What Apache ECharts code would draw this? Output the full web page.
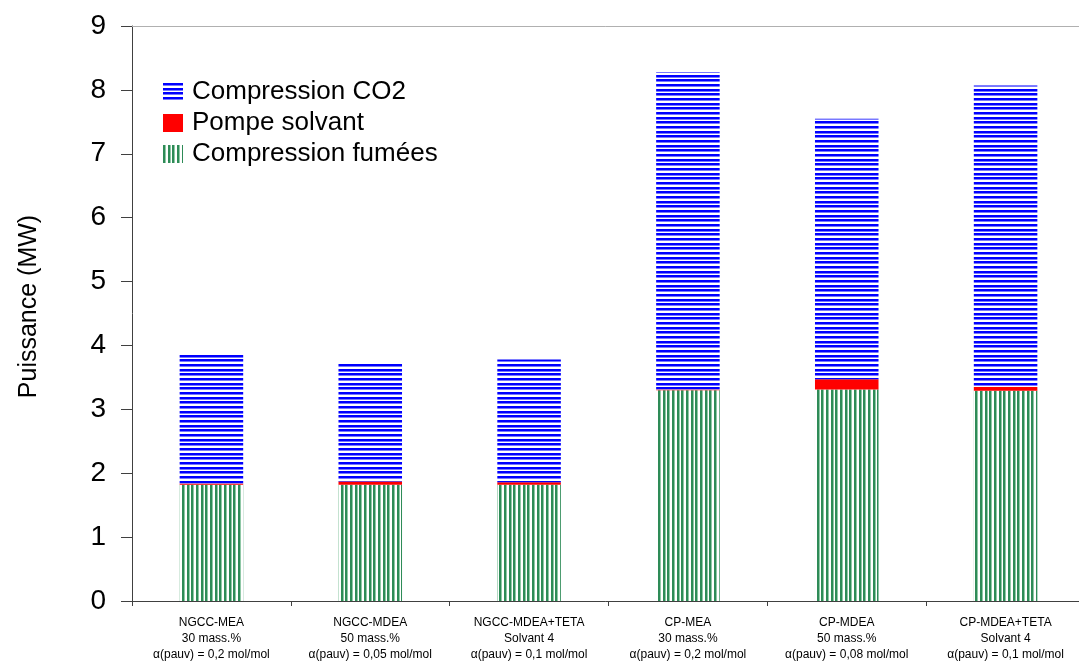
<!DOCTYPE html>
<html>
<head>
<meta charset="utf-8">
<script src="https://cdn.jsdelivr.net/npm/echarts@6/dist/echarts.min.js"></script>
<style>
  html, body { margin: 0; padding: 0; background: #fff; }
  #chart { width: 1079px; height: 668px; }
</style>
</head>
<body>
<div id="chart"></div>
<script>
// categories (3 lines of label each)
var procedes = ['NGCC-MEA', 'NGCC-MDEA', 'NGCC-MDEA+TETA', 'CP-MEA', 'CP-MDEA', 'CP-MDEA+TETA'];
var solvants = ['30 mass.%', '50 mass.%', 'Solvant 4', '30 mass.%', '50 mass.%', 'Solvant 4'];
var charges = ['α(pauv) = 0,2 mol/mol', 'α(pauv) = 0,05 mol/mol', 'α(pauv) = 0,1 mol/mol',
               'α(pauv) = 0,2 mol/mol', 'α(pauv) = 0,08 mol/mol', 'α(pauv) = 0,1 mol/mol'];

// valeurs (MW)
var compFumees = [1.82, 1.82, 1.82, 3.30, 3.31, 3.29];
var pompeSolvant = [0.02, 0.05, 0.04, 0.01, 0.16, 0.06];
var compCO2 = [2.04, 1.86, 1.92, 4.97, 4.08, 4.72];

var yTicks = [0, 1, 2, 3, 4, 5, 6, 7, 8, 9];

// motifs hachurés
function stripes(color, light, vertical) {
    var c = document.createElement('canvas');
    c.width = 14; c.height = 14;
    var ctx = c.getContext('2d');
    ctx.fillStyle = '#fff';
    ctx.fillRect(0, 0, 14, 14);
    for (var i = 0; i < 3; i++) {
        var p = Math.round(i * 14 / 3);
        ctx.fillStyle = light;
        if (vertical) ctx.fillRect(p + 2, 0, 1, 14); else ctx.fillRect(0, p + 2, 14, 1);
        ctx.fillStyle = color;
        if (vertical) ctx.fillRect(p, 0, 2, 14); else ctx.fillRect(0, p, 14, 2);
    }
    return { image: c, repeat: 'repeat' };
}

var blueHatch = stripes('#0000ff', '#7878ff', false);
var greenHatch = stripes('#2e8b57', '#8fc8a6', true);

var myChart = echarts.init(document.getElementById('chart'));

var option = {
    animation: false,
    backgroundColor: '#fff',
    textStyle: { fontFamily: 'Liberation Sans, Arial, sans-serif' },
    grid: { left: 132, top: 26, bottom: 67, width: 953, outerBoundsMode: 'none' },
    legend: {
        orient: 'vertical',
        left: 158,
        top: 74,
        icon: 'rect',
        itemWidth: 20,
        itemHeight: 18,
        itemGap: 5,
        data: ['Compression CO2', 'Pompe solvant', 'Compression fumées'],
        textStyle: { fontSize: 26, color: '#000', lineHeight: 26, padding: [0, 0, 0, 4] }
    },
    xAxis: [
        {
            type: 'category',
            data: procedes,
            axisLine: { lineStyle: { color: '#404040', width: 1 } },
            axisTick: { show: true, length: 5, lineStyle: { color: '#404040' } },
            axisLabel: {
                interval: 0,
                margin: 14,
                fontSize: 12,
                lineHeight: 16,
                color: '#000',
                formatter: function (v, i) {
                    return procedes[i] + '\n' + solvants[i] + '\n' + charges[i];
                }
            }
        },
        {
            // bord supérieur du cadre
            type: 'category',
            position: 'top',
            data: procedes,
            axisLine: { lineStyle: { color: '#b0b0b0', width: 1 } },
            axisTick: { show: false },
            axisLabel: { show: false }
        }
    ],
    yAxis: {
        type: 'value',
        min: yTicks[0],
        max: yTicks[yTicks.length - 1],
        interval: 1,
        name: 'Puissance (MW)',
        nameLocation: 'middle',
        nameGap: 90,
        nameTextStyle: { fontSize: 25, color: '#000', padding: [0, 0, 0, 14] },
        splitLine: { show: false },
        axisLine: { show: true, lineStyle: { color: '#404040' } },
        axisTick: { show: true, length: 11, lineStyle: { color: '#404040' } },
        axisLabel: { fontSize: 28, color: '#000', margin: 26 }
    },
    series: [
        {
            name: 'Compression fumées',
            type: 'bar',
            stack: 'total',
            barWidth: '40%',
            data: compFumees,
            itemStyle: { color: greenHatch }
        },
        {
            name: 'Pompe solvant',
            type: 'bar',
            stack: 'total',
            data: pompeSolvant,
            itemStyle: { color: '#ff0000' }
        },
        {
            name: 'Compression CO2',
            type: 'bar',
            stack: 'total',
            data: compCO2,
            itemStyle: { color: blueHatch }
        }
    ]
};

option && myChart.setOption(option);
</script>
</body>
</html>
